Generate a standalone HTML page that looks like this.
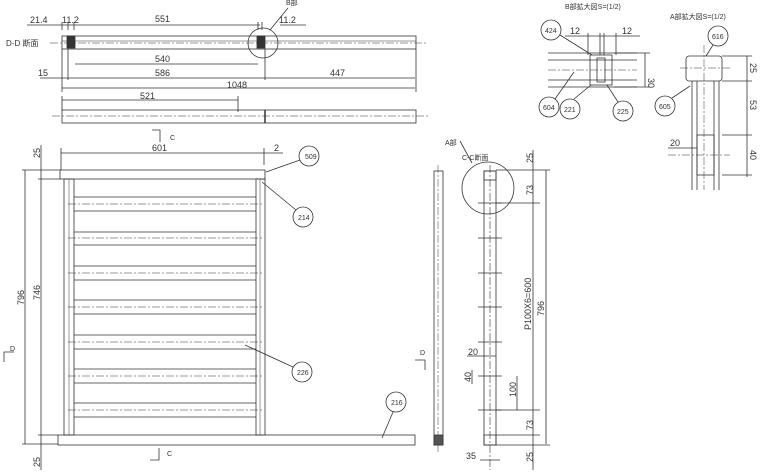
<!DOCTYPE html>
<html><head><meta charset="utf-8"><style>
html,body{margin:0;padding:0;background:#fff;}
svg{display:block;}
text{font-family:"Liberation Sans","Noto Sans CJK JP",sans-serif;fill:#333;}
</style></head><body>
<svg width="767" height="476" viewBox="0 0 767 476" xmlns="http://www.w3.org/2000/svg">
<g stroke="#333" stroke-width="0.8" fill="none">
<!-- D-D section top -->
<rect x="62" y="36" width="354" height="13"/>
<line x1="62" y1="41" x2="416" y2="41" stroke-width="0.5"/>
<line x1="50" y1="43" x2="428" y2="43" stroke-dasharray="8,2,2,2" stroke-width="0.6"/>
<rect x="67" y="36" width="8" height="12" fill="#333"/>
<rect x="257" y="36" width="8" height="12" fill="#333"/>
<circle cx="263" cy="43" r="15"/>
<line x1="270" y1="30" x2="288" y2="8"/>
<line x1="27" y1="25" x2="260" y2="25"/>
<line x1="280" y1="25" x2="306" y2="25"/>
<line x1="62" y1="22" x2="62" y2="30"/><line x1="68" y1="22" x2="68" y2="30"/><line x1="74" y1="22" x2="74" y2="30"/>
<line x1="258" y1="22" x2="258" y2="30"/><line x1="262" y1="22" x2="262" y2="30"/>
<line x1="75" y1="64" x2="258" y2="64"/>
<line x1="40" y1="78" x2="415" y2="78"/>
<line x1="62" y1="88" x2="415" y2="88"/>
<line x1="62" y1="100" x2="238" y2="100"/>
<line x1="62" y1="49" x2="62" y2="92"/><line x1="416" y1="49" x2="416" y2="92"/>
<line x1="68" y1="49" x2="68" y2="80"/><line x1="265" y1="49" x2="265" y2="80"/>
<line x1="62" y1="96" x2="62" y2="110"/><line x1="238" y1="96" x2="238" y2="112"/>
<!-- lower bar -->
<rect x="62" y="110" width="354" height="13"/>
<line x1="52" y1="116" x2="428" y2="116" stroke-dasharray="8,2,2,2" stroke-width="0.6"/>
<line x1="265" y1="110" x2="265" y2="123" stroke-width="1.5"/>
<path d="M152 130 h8 v12"/>
<!-- front view -->
<rect x="60" y="170" width="205" height="9"/>
<rect x="64" y="179" width="10" height="256"/>
<line x1="69" y1="179" x2="69" y2="435" stroke-width="0.5"/>
<rect x="256" y="179" width="9" height="256"/>
<line x1="260" y1="179" x2="260" y2="435" stroke-width="0.5"/>
<rect x="58" y="435" width="357" height="10"/>
<g stroke-width="0.7">
<line x1="74" y1="197" x2="256" y2="197"/><line x1="74" y1="211" x2="256" y2="211"/>
<line x1="74" y1="232" x2="256" y2="232"/><line x1="74" y1="245" x2="256" y2="245"/>
<line x1="74" y1="266" x2="256" y2="266"/><line x1="74" y1="280" x2="256" y2="280"/>
<line x1="74" y1="300" x2="256" y2="300"/><line x1="74" y1="314" x2="256" y2="314"/>
<line x1="74" y1="335" x2="256" y2="335"/><line x1="74" y1="349" x2="256" y2="349"/>
<line x1="74" y1="369" x2="256" y2="369"/><line x1="74" y1="383" x2="256" y2="383"/>
<line x1="74" y1="403" x2="256" y2="403"/><line x1="74" y1="417" x2="256" y2="417"/>
</g>
<g stroke-dasharray="8,2,2,2" stroke-width="0.5">
<line x1="68" y1="204" x2="262" y2="204"/><line x1="68" y1="238" x2="262" y2="238"/>
<line x1="68" y1="273" x2="262" y2="273"/><line x1="68" y1="307" x2="262" y2="307"/>
<line x1="68" y1="342" x2="262" y2="342"/><line x1="68" y1="376" x2="262" y2="376"/>
<line x1="68" y1="410" x2="262" y2="410"/>
</g>
<line x1="61" y1="153" x2="283" y2="153"/>
<line x1="61" y1="148" x2="61" y2="170"/><line x1="264" y1="148" x2="264" y2="165"/>
<line x1="25" y1="170" x2="25" y2="444"/>
<line x1="41" y1="145" x2="41" y2="470"/>
<line x1="22" y1="170" x2="60" y2="170"/><line x1="38" y1="179" x2="60" y2="179"/>
<line x1="38" y1="435" x2="58" y2="435"/><line x1="22" y1="444" x2="58" y2="444"/>
<circle cx="309" cy="156" r="10"/><line x1="300" y1="160" x2="266" y2="172"/>
<circle cx="303" cy="217" r="10"/><line x1="296" y1="210" x2="262" y2="182"/>
<circle cx="302" cy="372" r="10"/><line x1="293" y1="367" x2="245" y2="345"/>
<circle cx="396" cy="402" r="10"/><line x1="393" y1="412" x2="382" y2="438"/>
<path d="M14 352 h-10 v10"/><path d="M415 360 h10 v10"/>
<path d="M150 460 h9 v-12"/>
<!-- side view -->
<rect x="434" y="171" width="9" height="274"/>
<line x1="438" y1="165" x2="438" y2="452" stroke-dasharray="8,2,2,2" stroke-width="0.5"/>
<rect x="434" y="435" width="9" height="10" fill="#555"/>
<!-- C-C section -->
<rect x="484" y="171" width="12" height="274"/>
<line x1="490" y1="165" x2="490" y2="470" stroke-dasharray="8,2,2,2" stroke-width="0.6"/>
<rect x="484" y="171" width="12" height="9"/>
<rect x="484" y="435" width="12" height="10"/>
<circle cx="488" cy="188" r="26"/>
<line x1="472" y1="163" x2="460" y2="141"/>
<g stroke-width="0.7">
<line x1="478" y1="203" x2="502" y2="203"/><line x1="478" y1="238" x2="502" y2="238"/>
<line x1="478" y1="273" x2="502" y2="273"/><line x1="478" y1="307" x2="502" y2="307"/>
<line x1="478" y1="342" x2="502" y2="342"/><line x1="478" y1="376" x2="502" y2="376"/>
<line x1="478" y1="410" x2="502" y2="410"/>
</g>
<line x1="496" y1="170" x2="550" y2="170"/><line x1="496" y1="203" x2="540" y2="203"/>
<line x1="496" y1="410" x2="540" y2="410"/><line x1="496" y1="435" x2="540" y2="435"/>
<line x1="496" y1="445" x2="550" y2="445"/>
<line x1="533" y1="150" x2="533" y2="470"/>
<line x1="546" y1="170" x2="546" y2="444"/>
<line x1="517" y1="376" x2="517" y2="410"/>
<line x1="467" y1="356" x2="496" y2="356"/>
<line x1="472" y1="370" x2="472" y2="384"/>
<line x1="480" y1="460" x2="500" y2="460"/>
<!-- B detail -->
<line x1="548" y1="53" x2="637" y2="53"/><line x1="548" y1="60" x2="637" y2="60"/>
<line x1="548" y1="80" x2="637" y2="80"/><line x1="548" y1="87" x2="637" y2="87"/>
<line x1="548" y1="70" x2="637" y2="70" stroke-dasharray="8,2,2,2" stroke-width="0.5"/>
<rect x="590" y="55" width="22" height="30"/>
<rect x="597" y="58" width="8" height="24"/>
<line x1="588" y1="33" x2="588" y2="55"/><line x1="600" y1="33" x2="600" y2="55"/><line x1="604" y1="33" x2="604" y2="55"/><line x1="616" y1="33" x2="616" y2="55"/>
<line x1="565" y1="36" x2="640" y2="36"/>
<line x1="614" y1="53" x2="650" y2="53"/><line x1="614" y1="87" x2="650" y2="87"/>
<line x1="645" y1="53" x2="645" y2="87"/>
<circle cx="551" cy="30" r="10"/><line x1="560" y1="35" x2="592" y2="55"/>
<circle cx="549" cy="107" r="10"/><line x1="555" y1="99" x2="574" y2="72"/>
<circle cx="570" cy="109" r="10"/><line x1="574" y1="99" x2="591" y2="85"/>
<circle cx="623" cy="111" r="10"/><line x1="618" y1="102" x2="607" y2="85"/>
<!-- A detail -->
<rect x="686" y="56" width="36" height="25" rx="3"/>
<line x1="692" y1="81" x2="692" y2="190"/><line x1="719" y1="81" x2="719" y2="190"/>
<line x1="697" y1="81" x2="697" y2="190"/><line x1="714" y1="81" x2="714" y2="190"/>
<rect x="697" y="135" width="17" height="40"/>
<line x1="704" y1="45" x2="704" y2="190" stroke-dasharray="8,2,2,2" stroke-width="0.5"/>
<line x1="680" y1="68" x2="730" y2="68" stroke-dasharray="8,2,2,2" stroke-width="0.5"/>
<line x1="668" y1="155" x2="730" y2="155" stroke-dasharray="8,2,2,2" stroke-width="0.5"/>
<line x1="722" y1="56" x2="752" y2="56"/><line x1="722" y1="81" x2="752" y2="81"/>
<line x1="722" y1="135" x2="752" y2="135"/><line x1="722" y1="175" x2="752" y2="175"/>
<line x1="747" y1="56" x2="747" y2="177"/>
<line x1="668" y1="148" x2="697" y2="148"/>
<circle cx="718" cy="36" r="10"/><line x1="713" y1="45" x2="706" y2="56"/>
<circle cx="665" cy="106" r="10"/><line x1="672" y1="98" x2="690" y2="86"/>
</g>
<g font-size="9">
<text x="30" y="23">21.4</text><text x="62" y="23">11.2</text>
<text x="155" y="22">551</text><text x="279" y="23">11.2</text>
<text x="286" y="5" font-size="7">B部</text>
<text x="6" y="46" font-size="8">D-D 断面</text>
<text x="155" y="62">540</text><text x="38" y="76">15</text>
<text x="155" y="76">586</text><text x="330" y="76">447</text>
<text x="227" y="88">1048</text><text x="140" y="99">521</text>
<text x="170" y="140" font-size="7">C</text>
<text x="152" y="151">601</text><text x="274" y="151">2</text>
<text x="305" y="159" font-size="7">509</text>
<text x="298" y="220" font-size="7">214</text>
<text x="297" y="375" font-size="7">226</text>
<text x="391" y="405" font-size="7">216</text>
<text x="10" y="351" font-size="7">D</text><text x="420" y="355" font-size="7">D</text>
<text x="167" y="456" font-size="7">C</text>
<text transform="translate(40,158) rotate(-90)">25</text>
<text transform="translate(24,305) rotate(-90)">796</text>
<text transform="translate(40,300) rotate(-90)">746</text>
<text transform="translate(40,467) rotate(-90)">25</text>
<text x="445" y="145" font-size="7">A部</text>
<text x="462" y="160" font-size="7">C-C断面</text>
<text transform="translate(533,163) rotate(-90)">25</text>
<text transform="translate(533,195) rotate(-90)">73</text>
<text transform="translate(531,330) rotate(-90)">P100X6=600</text>
<text transform="translate(544,316) rotate(-90)">796</text>
<text x="468" y="355">20</text>
<text transform="translate(471,382) rotate(-90)">40</text>
<text transform="translate(516,397) rotate(-90)">100</text>
<text transform="translate(533,430) rotate(-90)">73</text>
<text transform="translate(533,462) rotate(-90)">25</text>
<text x="466" y="459">35</text>
<text x="565" y="9" font-size="7">B部拡大図S=(1/2)</text>
<text x="570" y="34">12</text><text x="622" y="34">12</text>
<text transform="translate(648,78) rotate(90)">30</text>
<text x="545" y="33" font-size="7">424</text><text x="543" y="110" font-size="7">604</text>
<text x="564" y="112" font-size="7">221</text><text x="617" y="114" font-size="7">225</text>
<text x="670" y="19" font-size="7">A部拡大図S=(1/2)</text>
<text x="712" y="39" font-size="7">616</text><text x="659" y="109" font-size="7">605</text>
<text x="670" y="146">20</text>
<text transform="translate(750,63) rotate(90)">25</text>
<text transform="translate(750,100) rotate(90)">53</text>
<text transform="translate(750,150) rotate(90)">40</text>
</g>
</svg>
</body></html>
